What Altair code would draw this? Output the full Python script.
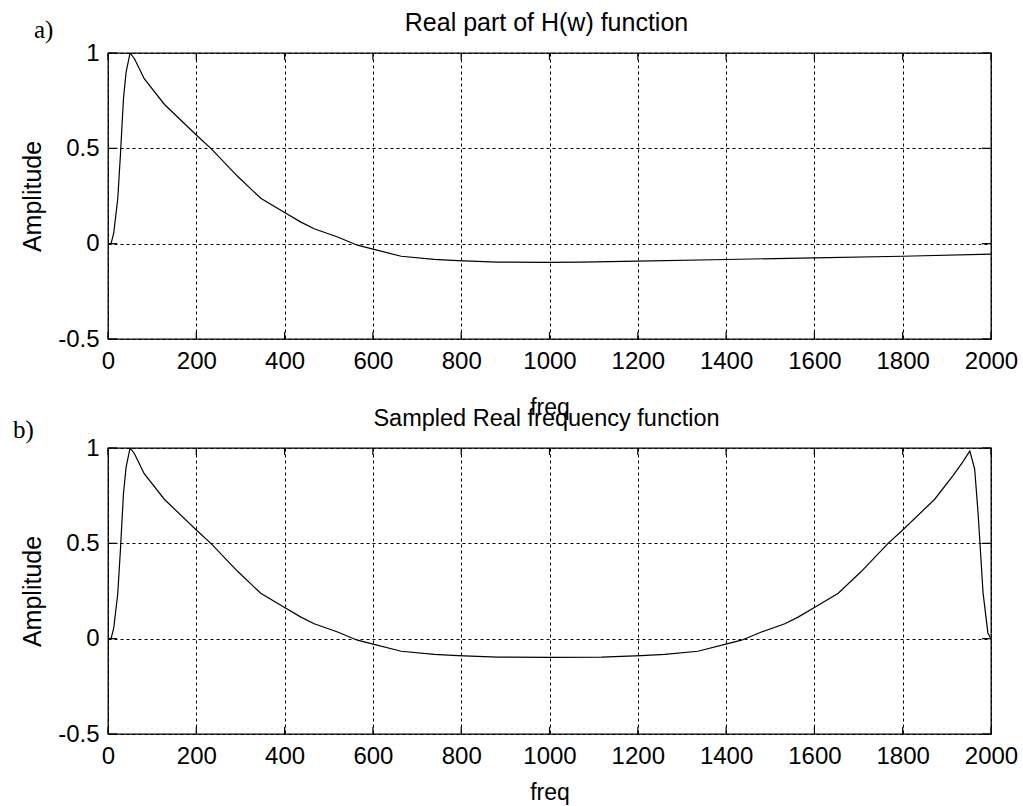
import altair as alt
import pandas as pd

# ---- data ----
freq_a = [0, 7, 13, 22, 28, 35, 41, 50, 60, 82, 128, 200, 233, 294, 346, 399,
          437, 467, 520, 565, 596, 664, 739, 792, 882, 996, 1071, 1200, 1400,
          1600, 1800, 2000]
amp_a = [0.0, 0.0, 0.056, 0.233, 0.46, 0.76, 0.90, 1.0, 0.97, 0.865, 0.73,
         0.57, 0.50, 0.352, 0.238, 0.165, 0.113, 0.078, 0.035, -0.008, -0.026,
         -0.066, -0.082, -0.089, -0.097, -0.098, -0.097, -0.092, -0.083,
         -0.074, -0.066, -0.055]

freq_b = [0, 7, 13, 22, 28, 35, 41, 50, 60, 82, 128, 200, 233, 294, 346, 399,
          437, 467, 520, 565, 596, 664, 739, 792, 882, 1000, 1118, 1208, 1261,
          1336, 1404, 1435, 1480, 1533, 1563, 1601, 1654, 1706, 1767, 1800,
          1872, 1914, 1937, 1952, 1963, 1971, 1982, 1993, 2000]
amp_b = [0.0, 0.0, 0.056, 0.233, 0.46, 0.76, 0.90, 1.0, 0.97, 0.865, 0.73,
         0.57, 0.50, 0.352, 0.238, 0.165, 0.113, 0.078, 0.035, -0.008, -0.026,
         -0.066, -0.082, -0.089, -0.097, -0.098, -0.097, -0.089, -0.082,
         -0.066, -0.026, -0.008, 0.035, 0.078, 0.113, 0.165, 0.238, 0.352,
         0.50, 0.57, 0.73, 0.855, 0.93, 0.985, 0.89, 0.65, 0.24, 0.03, 0.0]

x_ticks = [0, 200, 400, 600, 800, 1000, 1200, 1400, 1600, 1800, 2000]
y_ticks = [-0.5, 0, 0.5, 1]
titles = ["Real part of H(w) function", "Sampled Real frequency function"]
panel_tags = ["a)", "b)"]
x_title = "freq"
y_title = "Amplitude"

W, H = 883, 286
FONT = "Liberation Sans"


def panel(freq, amp, title, title_size, tag, tag_x, tag_y, xtitle_y, anchor):
    df = pd.DataFrame({"freq": freq, "amp": amp})
    xs = alt.Scale(domain=[0, 2000], nice=False, zero=False)
    ys = alt.Scale(domain=[-0.5, 1], nice=False, zero=False)
    x_axis = alt.Axis(values=x_ticks, format="d", title=x_title,
                      titleY=xtitle_y, titleBaseline="alphabetic",
                      labelFlush=False, labelPadding=10)
    y_axis = alt.Axis(values=y_ticks, title=y_title, titleFontSize=25,
                      labelExpr="datum.value < 0 ? '-' + toString(-datum.value) : toString(datum.value)",
                      titleX=-76, titleY=H / 2, titleAngle=270,
                      titleBaseline="middle", titleAlign="center",
                      labelFlush=False, labelPadding=9)
    X = alt.X("freq:Q", scale=xs, axis=x_axis)
    Y = alt.Y("amp:Q", scale=ys, axis=y_axis)

    line = alt.Chart(df).mark_line(color="black", strokeWidth=1.2, clip=True).encode(x=X, y=Y)

    xt = pd.DataFrame({"freq": x_ticks})
    yt = pd.DataFrame({"amp": y_ticks})
    tick_b = alt.Chart(xt).mark_rule(color="black", strokeWidth=1.2).encode(
        x=X, y=alt.value(H), y2=alt.value(H - 7))
    tick_t = alt.Chart(xt).mark_rule(color="black", strokeWidth=1.2).encode(
        x=X, y=alt.value(0), y2=alt.value(7))
    tick_l = alt.Chart(yt).mark_rule(color="black", strokeWidth=1.2).encode(
        y=Y, x=alt.value(0), x2=alt.value(9))
    tick_r = alt.Chart(yt).mark_rule(color="black", strokeWidth=1.2).encode(
        y=Y, x=alt.value(W - 9), x2=alt.value(W))

    tag_mark = alt.Chart(pd.DataFrame({"tag": [tag]})).mark_text(
        align="left", baseline="alphabetic", font="Liberation Serif",
        fontSize=25, color="black").encode(
        text="tag:N", x=alt.value(tag_x), y=alt.value(tag_y))

    title_mark = alt.Chart(pd.DataFrame({"title": [title]})).mark_text(
        align="center", baseline="alphabetic", font=FONT,
        fontSize=title_size, color="black").encode(
        text="title:N", x=alt.value(W / 2 - 3), y=alt.value(-22))

    layers = [line, tick_b, tick_t, tick_l, tick_r, tag_mark, title_mark]
    if anchor:
        anc = alt.Chart(pd.DataFrame({"a": [0]})).mark_rule(
            strokeOpacity=0, strokeWidth=0.01).encode(
            x=alt.value(-107), x2=alt.value(-107), y=alt.value(-52), y2=alt.value(-45))
        layers.append(anc)

    return alt.layer(*layers).properties(width=W, height=H)


top = panel(freq_a, amp_a, titles[0], 25, panel_tags[0], -74, -15, 75, True)
bottom = panel(freq_b, amp_b, titles[1], 23.5, panel_tags[1], -95, -10, 65, False)

chart = alt.vconcat(top, bottom, spacing=109, bounds="flush").properties(
    padding={"left": 0, "top": 0, "right": 4, "bottom": 4},
    background="white",
).configure_view(
    stroke="black", strokeWidth=1.3
).configure_axis(
    labelFont=FONT, labelFontSize=24, labelColor="black",
    titleFont=FONT, titleFontSize=23, titleFontWeight="normal",
    titleColor="black", grid=True, gridColor="black", gridDash=[3, 3],
    gridWidth=1, gridOpacity=1, domain=False, ticks=False,
)

chart.save("out.html", embed_options={"renderer": "svg", "actions": False})
